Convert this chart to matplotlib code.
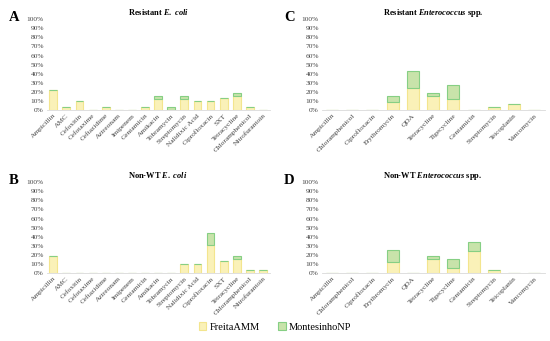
import matplotlib.pyplot as plt
import numpy as np

plt.rcParams['font.family'] = ['Liberation Serif', 'DejaVu Serif']
plt.rcParams['mathtext.fontset'] = 'custom'
plt.rcParams['mathtext.rm'] = 'Liberation Serif:bold'
plt.rcParams['mathtext.bf'] = 'Liberation Serif:bold'
plt.rcParams['mathtext.it'] = 'Liberation Serif:italic:bold'

ecoli_cats = ["Ampicillin", "AMC", "Cefoxitin", "Cefotaxime", "Ceftazidime", "Aztreonam",
              "Imipenem", "Gentamicin", "Amikacin", "Tobramycin", "Streptomycin",
              "Nalidixic Acid", "Ciprofloxacin", "SXT", "Tetracycline", "Chloramphenicol",
              "Nitrofurantoin"]
ent_cats = ["Ampicillin", "Chloramphenicol", "Ciprofloxacin", "Erythromycin", "QDA",
            "Tetracycline", "Tigecycline", "Gentamicin", "Streptomycin", "Teicoplanin",
            "Vancomycin"]

# values in %
res_ecoli_freita = [22, 3.3, 10, 0, 3.3, 0, 0, 3.3, 12, 0, 12, 10, 10, 13, 15.5, 3.3, 0]
res_ecoli_mont = [0, 0, 0, 0, 0, 0, 0, 0, 4, 3.3, 4, 0, 0, 0, 3.5, 0, 0]
nonwt_ecoli_freita = [19, 0, 0, 0, 0, 0, 0, 0, 0, 0, 10, 10, 31, 13, 16, 3, 3]
nonwt_ecoli_mont = [0, 0, 0, 0, 0, 0, 0, 0, 0, 0, 0, 0, 13, 0, 3, 0, 0]

res_ent_freita = [0, 0, 0, 9, 24, 15.5, 12, 0, 3.7, 6.5, 0]
res_ent_mont = [0, 0, 0, 7, 18.5, 3, 15.5, 0, 0, 0, 0]
nonwt_ent_freita = [0, 0, 0, 12, 0, 15, 6, 24, 3, 0, 0]
nonwt_ent_mont = [0, 0, 0, 13, 0, 4, 9.5, 10, 0, 0, 0]

yellow_fc = '#faf1b8'
yellow_ec = '#f3e58e'
green_fc = '#c8e3aa'
green_ec = '#86cf84'

fig = plt.figure(figsize=(5.5, 3.41), dpi=100)

panels = [
    ("A", r"$\mathbf{Resistant}\ \mathit{E.\ coli}$", ecoli_cats, res_ecoli_freita, res_ecoli_mont,
     [0.085, 0.677, 0.405, 0.267]),
    ("B", r"$\mathbf{Non\text{-}WT}\ \mathit{E.\ coli}$", ecoli_cats, nonwt_ecoli_freita, nonwt_ecoli_mont,
     [0.085, 0.199, 0.405, 0.267]),
    ("C", r"$\mathbf{Resistant}\ \mathit{Enterococcus}\ \mathbf{spp.}$", ent_cats, res_ent_freita, res_ent_mont,
     [0.585, 0.677, 0.405, 0.267]),
    ("D", r"$\mathbf{Non\text{-}WT}\ \mathit{Enterococcus}\ \mathbf{spp.}$", ent_cats, nonwt_ent_freita, nonwt_ent_mont,
     [0.585, 0.199, 0.405, 0.267]),
]

for letter, title, cats, fr, mo, pos in panels:
    ax = fig.add_axes(pos)
    x = np.arange(len(cats))
    b1 = ax.bar(x, fr, width=0.6, color=yellow_fc, edgecolor=yellow_ec, linewidth=0.8,
                label="FreitaAMM")
    b2 = ax.bar(x, mo, width=0.6, bottom=fr, color=green_fc, edgecolor=green_ec, linewidth=0.8,
                label="MontesinhoNP")
    ax.set_ylim(0, 100)
    ax.set_xlim(-0.5, len(cats) - 0.5)
    ax.set_yticks(range(0, 101, 10))
    ax.set_yticklabels([f"{v}%" for v in range(0, 101, 10)], fontsize=5.3, color='#444444')
    ax.set_xticks(x)
    ax.set_xticklabels(cats, rotation=45, ha='right', rotation_mode='anchor',
                       fontsize=5.3, color='#444444')
    ax.tick_params(length=0, pad=2)
    for s in ['top', 'right', 'left']:
        ax.spines[s].set_visible(False)
    ax.spines['bottom'].set_color('#d9d9d9')
    ax.spines['bottom'].set_linewidth(0.6)
    ax.set_title(title, fontsize=6, pad=3)
    ax.text(-0.17, 1.02, letter, transform=ax.transAxes, fontsize=10.5, fontweight='bold',
            va='center', ha='left')

handles = [b1, b2]
fig.legend(handles, ["FreitaAMM", "MontesinhoNP"], loc='lower center',
           bbox_to_anchor=(0.5, 0.0), ncol=2, frameon=False, fontsize=7.5,
           handlelength=0.7, handleheight=0.7, columnspacing=1.8, handletextpad=0.3)

fig.savefig("out.png", dpi=100)
